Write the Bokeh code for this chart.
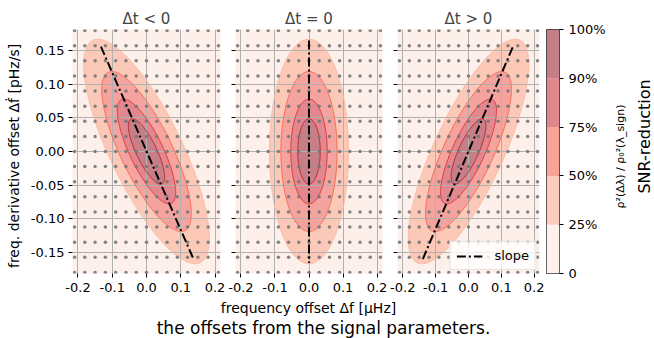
import numpy as np
from bokeh.plotting import figure
from bokeh.layouts import row, column
from bokeh.models import Range1d, FixedTicker, Legend, LegendItem, Label
from bokeh.embed import file_html
from bokeh.resources import INLINE

# ---------------- data ----------------
panel_titles = ["Δt < 0", "Δt = 0", "Δt > 0"]
shear = [-0.85, 0.0, 0.85]                      # tilt of the mismatch ellipses
levels = [0.25, 0.50, 0.75, 0.90]               # contour levels (SNR fraction)
half_width = [0.116, 0.0826, 0.0535, 0.033]     # Δf half-width of each contour
half_height = [0.167, 0.119, 0.078, 0.0486]     # Δḟ half-height of each contour
slope_x = [[-0.133, 0.138], [0.0, 0.0], [-0.139, 0.136]]
slope_y = [[0.156, -0.161], [0.165, -0.166], [-0.160, 0.157]]
dot_x = [-0.21, -0.18, -0.15, -0.12, -0.09, -0.06, -0.03, 0.0,
         0.03, 0.06, 0.09, 0.12, 0.15, 0.18, 0.21]
dot_y = [-0.18, -0.1575, -0.135, -0.1125, -0.09, -0.0675, -0.045, -0.0225, 0.0,
         0.0225, 0.045, 0.0675, 0.09, 0.1125, 0.135, 0.1575, 0.18]
x_ticks = [-0.2, -0.1, 0.0, 0.1, 0.2]
x_tick_labels = ["-0.2", "-0.1", "0.0", "0.1", "0.2"]
y_ticks = [-0.15, -0.10, -0.05, 0.0, 0.05, 0.10, 0.15]
y_tick_labels = ["-0.15", "-0.10", "-0.05", "0.00", "0.05", "0.10", "0.15"]
cbar_ticks = [0, 1, 2, 3, 4, 5]
cbar_labels = ["0", "25%", "50%", "75%", "90%", "100%"]

band_colors = ["#fdefe9", "#fcc8b7", "#f5a39e", "#e2878e", "#c67f87"]
cbar_colors = ["#fef0ea", "#fdcbbc", "#f8a398", "#e0868d", "#c47f86"]
line_colors = ["#fbb9a2", "#f4664a", "#dd2f2c", "#b81d24"]

FONT = "DejaVu Sans"
XR = (-0.216, 0.216)
YR = (-0.1815, 0.1815)
FH = 244
TOP = 29
BOT = 25
ROW_H = TOP + FH + BOT


def style_axes(p, show_ylabels):
    for ax in (p.xaxis, p.yaxis):
        ax.axis_line_color = None
        ax.major_tick_out = 4
        ax.major_tick_in = 0
        ax.minor_tick_line_color = None
        ax.major_tick_line_color = "black"
        ax.major_label_text_font = FONT
        ax.major_label_text_font_size = "13px"
        ax.major_label_text_color = "black"
        ax.axis_label_text_font = FONT
        ax.axis_label_text_font_style = "normal"
        ax.axis_label_text_font_size = "14px"
        ax.axis_label_text_color = "black"
    p.xaxis.ticker = FixedTicker(ticks=x_ticks)
    p.xaxis.major_label_overrides = dict(zip(x_ticks, x_tick_labels))
    p.xaxis.major_label_standoff = 5
    p.yaxis.ticker = FixedTicker(ticks=y_ticks)
    if show_ylabels:
        p.yaxis.major_label_overrides = dict(zip(y_ticks, y_tick_labels))
        p.yaxis.major_label_standoff = 4
    else:
        p.yaxis.major_label_overrides = {t: "" for t in y_ticks}
        p.yaxis.major_label_text_font_size = "0px"
        p.yaxis.major_label_standoff = 0
    p.xgrid.ticker = FixedTicker(ticks=x_ticks)
    p.ygrid.ticker = FixedTicker(ticks=y_ticks)
    p.grid.grid_line_color = "#b0b0b0"
    p.grid.grid_line_width = 1


def make_panel(i, frame_w, left_b, right_b):
    p = figure(frame_width=frame_w, frame_height=FH,
               min_border_left=left_b, min_border_right=right_b,
               min_border_top=TOP, min_border_bottom=BOT,
               x_range=Range1d(*XR), y_range=Range1d(*YR),
               title=panel_titles[i],
               output_backend="svg", toolbar_location=None)
    p.outline_line_color = None
    p.background_fill_color = band_colors[0]
    p.border_fill_color = "white"
    p.title.text_font = FONT
    p.title.text_font_size = "15px"
    p.title.text_font_style = "normal"
    p.title.align = "center"
    p.title.standoff = 4
    style_axes(p, i == 0)

    theta = np.linspace(0, 2 * np.pi, 241)
    c = shear[i]
    for k, lev in enumerate(levels):
        ex = half_width[k] * np.cos(theta) + c * half_height[k] * np.sin(theta)
        ey = half_height[k] * np.sin(theta)
        p.patch(ex, ey, fill_color=band_colors[k + 1], line_color=None, level="image")
    for k, lev in enumerate(levels):
        ex = half_width[k] * np.cos(theta) + c * half_height[k] * np.sin(theta)
        ey = half_height[k] * np.sin(theta)
        p.line(ex, ey, line_color=line_colors[k], line_width=1, line_alpha=0.9)

    gx, gy = np.meshgrid(dot_x, dot_y)
    p.scatter(gx.ravel(), gy.ravel(), size=3.5, fill_color="#777777",
              line_color=None, fill_alpha=0.9)
    r = p.line(slope_x[i], slope_y[i], line_color="black", line_width=2,
               line_dash="9 3 2 3")
    return p, r


p1, _ = make_panel(0, 148, 72, 7)
p1.yaxis.axis_label = "freq. derivative offset  Δḟ  [pHz/s]"
p1.yaxis.axis_label_standoff = 6

p2, _ = make_panel(1, 147, 8, 7)

p3, r3 = make_panel(2, 142, 8, 5)
legend = Legend(items=[LegendItem(label="slope", renderers=[r3])],
                location="bottom_right")
legend.label_text_font = FONT
legend.label_text_font_size = "13px"
legend.label_text_color = "black"
legend.border_line_color = "#cccccc"
legend.border_line_width = 1
legend.background_fill_alpha = 0.8
legend.glyph_width = 26
legend.glyph_height = 12
legend.label_height = 12
legend.label_standoff = 12
legend.padding = 6
legend.margin = 3
p3.add_layout(legend)

# colorbar
cb = figure(frame_width=13, frame_height=FH,
            min_border_left=2, min_border_right=49,
            min_border_top=TOP, min_border_bottom=BOT,
            x_range=Range1d(0, 1), y_range=Range1d(0, 5),
            x_axis_location=None, y_axis_location="right",
            output_backend="svg", toolbar_location=None)
cb.grid.visible = False
cb.quad(left=0, right=1, bottom=cbar_ticks[:-1], top=cbar_ticks[1:],
        fill_color=cbar_colors, line_color=None)
cb.outline_line_color = "#333333"
cb.outline_line_width = 1
cb.yaxis.ticker = FixedTicker(ticks=cbar_ticks)
cb.yaxis.major_label_overrides = dict(zip(cbar_ticks, cbar_labels))
cb.yaxis.axis_line_color = None
cb.yaxis.major_tick_out = 4
cb.yaxis.major_tick_in = 0
cb.yaxis.minor_tick_line_color = None
cb.yaxis.major_tick_line_color = "black"
cb.yaxis.major_label_text_font = FONT
cb.yaxis.major_label_text_font_size = "13px"
cb.yaxis.major_label_text_color = "black"
cb.yaxis.major_label_standoff = 5

# colorbar title strip
lab = figure(width=46, height=ROW_H, x_range=Range1d(0, 1), y_range=Range1d(0, 1),
             min_border=0, x_axis_location=None, y_axis_location=None,
             output_backend="svg", toolbar_location=None)
lab.outline_line_color = None
lab.grid.visible = False
lab.add_layout(Label(x=12, y=BOT + FH / 2 - 30, x_units="screen", y_units="screen",
                     text="ρ²(Δλ) / ρ₀²(λ_sign)", angle=np.pi / 2,
                     text_align="center", text_baseline="middle",
                     text_font=FONT, text_font_size="11px", text_color="black"))
lab.add_layout(Label(x=36, y=BOT + FH / 2 - 10, x_units="screen", y_units="screen",
                     text="SNR-reduction", angle=np.pi / 2,
                     text_align="center", text_baseline="middle",
                     text_font=FONT, text_font_size="16px", text_color="black"))

# bottom strip: shared x label and caption
cap = figure(width=654, height=40, x_range=Range1d(0, 1), y_range=Range1d(0, 1),
             min_border=0, x_axis_location=None, y_axis_location=None,
             output_backend="svg", toolbar_location=None)
cap.outline_line_color = None
cap.grid.visible = False
cap.add_layout(Label(x=308, y=31, x_units="screen", y_units="screen",
                     text="frequency offset Δf [μHz]",
                     text_align="center", text_baseline="middle",
                     text_font=FONT, text_font_size="14px", text_color="black"))
cap.add_layout(Label(x=323, y=11, x_units="screen", y_units="screen",
                     text="the offsets from the signal parameters.",
                     text_align="center", text_baseline="middle",
                     text_font=FONT, text_font_size="17px", text_color="black"))

layout = column(row(p1, p2, p3, cb, lab, spacing=0), cap, spacing=0)
open("out.html", "w").write(file_html(layout, INLINE))
